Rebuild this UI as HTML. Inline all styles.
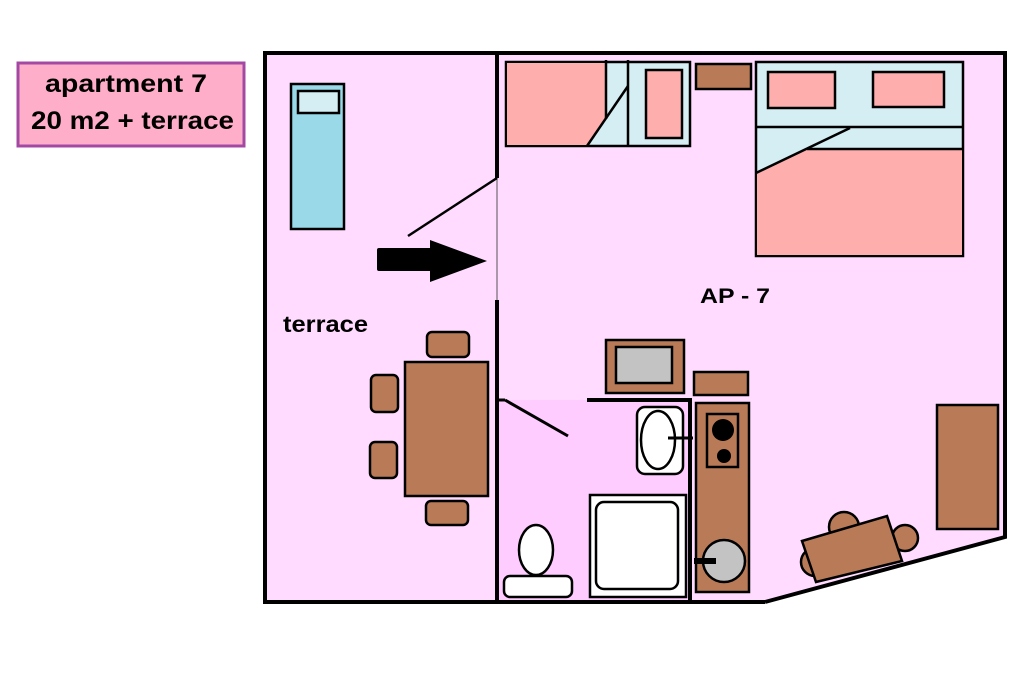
<!DOCTYPE html>
<html><head><meta charset="utf-8"><style>
html,body{margin:0;padding:0;background:#fff;}
svg{display:block;}
text{font-family:"Liberation Sans",sans-serif;font-weight:bold;fill:#000;}
</style></head><body>
<svg width="1024" height="682" viewBox="0 0 1024 682" xmlns="http://www.w3.org/2000/svg">
<rect x="0" y="0" width="1024" height="682" fill="#fff"/>
<!-- label -->
<rect x="18" y="63" width="226" height="83" fill="#ffaec9" stroke="#a349a4" stroke-width="3"/>
<text x="45" y="92" font-size="25" textLength="162" lengthAdjust="spacingAndGlyphs">apartment 7</text>
<text x="31" y="129" font-size="25" textLength="203" lengthAdjust="spacingAndGlyphs">20 m2 + terrace</text>
<!-- floor -->
<polygon points="265,53 1005,53 1005,537 765,602 265,602" fill="#ffdcff"/>
<rect x="497" y="400" width="194" height="202" fill="#ffccff"/>
<!-- walls -->
<polyline points="765,602 265,602 265,53 1005,53 1005,537 765,602" fill="none" stroke="#000" stroke-width="4"/>
<line x1="497" y1="53" x2="497" y2="178" stroke="#000" stroke-width="4"/>
<line x1="497" y1="178" x2="497" y2="300" stroke="#555" stroke-width="1"/>
<line x1="497" y1="300" x2="497" y2="604" stroke="#000" stroke-width="4"/>
<line x1="497" y1="178" x2="408" y2="236" stroke="#000" stroke-width="2.5"/>
<!-- arrow -->
<rect x="377" y="248" width="58" height="23" rx="2" fill="#000"/>
<polygon points="430,240 487,261 430,282" fill="#000"/>
<!-- terrace furniture -->
<rect x="291" y="84" width="53" height="145" fill="#99d9e8" stroke="#000" stroke-width="2.5"/>
<rect x="298" y="91" width="41" height="22" fill="#d4eef3" stroke="#000" stroke-width="2.5"/>
<text x="283" y="332" font-size="23" textLength="85" lengthAdjust="spacingAndGlyphs">terrace</text>
<g fill="#b97a57" stroke="#000" stroke-width="2.5">
<rect x="405" y="362" width="83" height="134"/>
<rect x="427" y="332" width="42" height="25" rx="5"/>
<rect x="371" y="375" width="27" height="37" rx="5"/>
<rect x="370" y="442" width="27" height="36" rx="5"/>
<rect x="426" y="501" width="42" height="24" rx="5"/>
</g>
<!-- top-left bedroom -->
<rect x="506" y="62" width="184" height="84" fill="#d4eef3" stroke="#000" stroke-width="2.5"/>
<polygon points="507,63 606,63 606,119 587,145 507,145" fill="#ffaeae"/>
<line x1="606" y1="60" x2="606" y2="119" stroke="#000" stroke-width="2.5"/>
<line x1="628" y1="86" x2="587" y2="146" stroke="#000" stroke-width="2.5"/>
<line x1="628" y1="60" x2="628" y2="146" stroke="#000" stroke-width="2.5"/>
<rect x="646" y="70" width="36" height="68" fill="#ffaeae" stroke="#000" stroke-width="2.5"/>
<rect x="696" y="64" width="55" height="25" fill="#b97a57" stroke="#000" stroke-width="2.5"/>
<!-- double bed -->
<rect x="756" y="62" width="207" height="194" fill="#d4eef3" stroke="#000" stroke-width="2.5"/>
<polygon points="757,173 807,149 962,149 962,255 757,255" fill="#ffaeae"/>
<line x1="756" y1="127" x2="963" y2="127" stroke="#000" stroke-width="2.5"/>
<line x1="807" y1="149" x2="963" y2="149" stroke="#000" stroke-width="2.5"/>
<line x1="756" y1="173" x2="850" y2="128" stroke="#000" stroke-width="2.5"/>
<rect x="768" y="72" width="67" height="36" fill="#ffaeae" stroke="#000" stroke-width="2.5"/>
<rect x="873" y="72" width="71" height="35" fill="#ffaeae" stroke="#000" stroke-width="2.5"/>
<text x="700" y="303" font-size="21" textLength="70" lengthAdjust="spacingAndGlyphs">AP - 7</text>
<!-- kitchen -->
<rect x="606" y="340" width="78" height="53" fill="#b97a57" stroke="#000" stroke-width="2.5"/>
<rect x="616" y="347" width="56" height="36" fill="#c3c3c3" stroke="#000" stroke-width="2.5"/>
<rect x="694" y="372" width="54" height="23" fill="#b97a57" stroke="#000" stroke-width="2.5"/>
<rect x="696" y="403" width="53" height="189" fill="#b97a57" stroke="#000" stroke-width="2.5"/>
<rect x="707" y="414" width="31" height="53" fill="#b97a57" stroke="#000" stroke-width="2.5"/>
<circle cx="723" cy="430" r="11" fill="#000"/>
<circle cx="724" cy="456" r="7" fill="#000"/>
<circle cx="724" cy="561" r="21" fill="#c3c3c3" stroke="#000" stroke-width="2.5"/>
<line x1="694" y1="561" x2="716" y2="561" stroke="#000" stroke-width="6"/>
<!-- bathroom -->
<polyline points="587,400 690,400 690,604" fill="none" stroke="#000" stroke-width="4"/>
<line x1="497" y1="400" x2="505" y2="400" stroke="#000" stroke-width="3"/>
<line x1="505" y1="400" x2="568" y2="436" stroke="#000" stroke-width="3"/>
<rect x="637" y="407" width="46" height="67" rx="8" fill="#fff" stroke="#000" stroke-width="2.5"/>
<ellipse cx="658" cy="440" rx="17" ry="29" fill="#fff" stroke="#000" stroke-width="2.5"/>
<line x1="668" y1="438" x2="693" y2="438" stroke="#000" stroke-width="3"/>
<rect x="590" y="495" width="96" height="102" fill="#fff" stroke="#000" stroke-width="2.5"/>
<rect x="596" y="502" width="82" height="87" rx="8" fill="#fff" stroke="#000" stroke-width="2.5"/>
<ellipse cx="536" cy="550" rx="17" ry="25" fill="#fff" stroke="#000" stroke-width="2.5"/>
<rect x="504" y="576" width="68" height="21" rx="6" fill="#fff" stroke="#000" stroke-width="2.5"/>
<!-- living area -->
<rect x="937" y="405" width="61" height="124" fill="#b97a57" stroke="#000" stroke-width="2.5"/>
<g fill="#b97a57" stroke="#000" stroke-width="2.5">
<circle cx="844" cy="527" r="15"/>
<circle cx="905" cy="538" r="13"/>
<circle cx="815" cy="562" r="14"/>
<polygon points="802,541 887,516 902,561 816,582"/>
</g>
</svg>
</body></html>
